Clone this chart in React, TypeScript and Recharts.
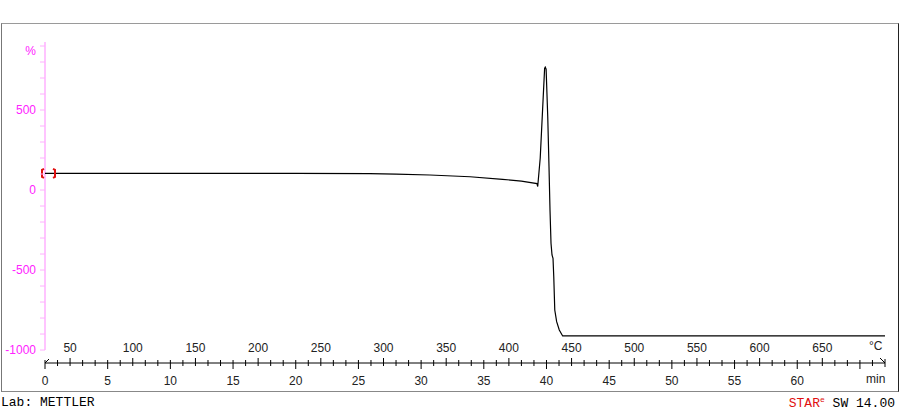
import { LineChart, Line, XAxis, YAxis, ReferenceLine, ReferenceDot } from 'recharts';

// time in min
const tiempo = [0, 10, 20, 25.9, 28, 30.7, 33.9, 36.5, 38, 39.24, 39.3, 39.5, 39.85, 39.9, 39.97, 40.1, 40.2, 40.28, 40.36, 40.44, 40.52, 40.58, 40.66, 40.81, 41.02, 41.29, 50, 67];
// signal in %
const senal = [104, 104, 104, 102, 99, 94, 83, 67, 56, 40, 22, 200, 760, 768, 755, 458, 146, -125, -333, -406, -427, -542, -750, -823, -875, -912, -912, -912];

const minLabels = [0, 5, 10, 15, 20, 25, 30, 35, 40, 45, 50, 55, 60];
const minTicks = Array.from({ length: 68 }, (_, i) => i);
// temperature scale (°C) and where each label sits on the time axis (min)
const tempLabels = [50, 100, 150, 200, 250, 300, 350, 400, 450, 500, 550, 600, 650];
const tempPos = [2, 7, 12, 17, 22, 27, 32, 37, 42, 47, 52, 57, 62];
const yTicks = [-1000, -900, -800, -700, -600, -500, -400, -300, -200, -100, 0, 100, 200, 300, 400, 500, 600, 700, 800, 900];
const yLabels = [-1000, -500, 0, 500];

const datos = tiempo.map((t, i) => ({ t, v: senal[i] }));

const AXIS_Y = 363;
const AXIS_X = 45;
const ROSA = '#ff22ff';
const ROSA_LINEA = '#ffb0ff';
const FUENTE = '"Liberation Sans", Arial, sans-serif';

const TickMin = (props: any) => {
  const { x, payload } = props;
  const val = payload.value;
  const mayor = val % 5 === 0;
  const iT = tempPos.indexOf(val);
  if (val === 67) {
    return (
      <g stroke="#000">
        <line x1={x - 5} y1={AXIS_Y - 5} x2={x} y2={AXIS_Y} />
        <line x1={x} x2={x} y1={AXIS_Y - 4} y2={AXIS_Y + 4} />
      </g>
    );
  }
  return (
    <g>
      <line
        x1={x}
        x2={x}
        y1={iT >= 0 ? AXIS_Y - 5 : AXIS_Y - 3}
        y2={mayor ? AXIS_Y + 6 : AXIS_Y + 3}
        stroke="#000"
      />
      {val === 0 && <line x1={x} y1={AXIS_Y} x2={x + 4} y2={AXIS_Y - 4} stroke="#000" />}
      {minLabels.includes(val) && (
        <text x={x} y={AXIS_Y + 22} textAnchor="middle" fontSize={12} fontFamily={FUENTE} fill="#222">
          {val}
        </text>
      )}
      {iT >= 0 && (
        <text x={x} y={AXIS_Y - 11} textAnchor="middle" fontSize={12} fontFamily={FUENTE} fill="#222">
          {tempLabels[iT]}
        </text>
      )}
    </g>
  );
};

const TickY = (props: any) => {
  const { y, payload } = props;
  const val = payload.value;
  return (
    <g>
      <line x1={AXIS_X - 5} x2={AXIS_X} y1={y} y2={y} stroke={ROSA_LINEA} />
      {yLabels.includes(val) && (
        <text x={AXIS_X - 9} y={y + 4} textAnchor="end" fontSize={12} fontFamily={FUENTE} fill={ROSA}>
          {val}
        </text>
      )}
      {val === 900 && (
        <text x={AXIS_X - 9} y={y + 9} textAnchor="end" fontSize={12} fontFamily={FUENTE} fill={ROSA}>
          %
        </text>
      )}
    </g>
  );
};

const Corchetes = (props: any) => {
  const { cx, cy } = props;
  return (
    <g stroke="#e01010" strokeWidth={2} fill="none">
      <path d={`M ${cx - 1} ${cy - 4.5} L ${cx - 3} ${cy - 3.5} L ${cx - 3} ${cy + 3.5} L ${cx - 1} ${cy + 4.5}`} />
      <path d={`M ${cx + 8} ${cy - 4.5} L ${cx + 10} ${cy - 3.5} L ${cx + 10} ${cy + 3.5} L ${cx + 8} ${cy + 4.5}`} />
    </g>
  );
};

export default function App() {
  return (
    <div style={{ position: 'absolute', left: 0, top: 0, width: 900, height: 417, background: '#fff' }}>
      <div
        style={{
          position: 'absolute',
          left: 1,
          top: 23,
          width: 896,
          height: 367,
          borderTop: '1px solid #9a9a9a',
          borderLeft: '1px solid #777',
          borderRight: '1px solid #222',
          borderBottom: '1px solid #888',
        }}
      />
      <div style={{ position: 'absolute', left: 0, top: 0 }}>
        <LineChart width={900} height={417} data={datos} margin={{ top: 42, right: 15, bottom: 53, left: 44 }}>
          <XAxis
            dataKey="t"
            type="number"
            domain={[0, 67]}
            ticks={minTicks}
            interval={0}
            height={1}
            axisLine={{ stroke: '#000' }}
            tickLine={false}
            tick={<TickMin />}
          />
          <YAxis
            type="number"
            domain={[-1081, 925]}
            ticks={yTicks}
            interval={0}
            width={1}
            axisLine={false}
            tickLine={false}
            tick={<TickY />}
            allowDataOverflow
          />
          <ReferenceLine
            segment={[{ x: 0, y: -1000 }, { x: 0, y: 925 }]}
            stroke={ROSA_LINEA}
            strokeWidth={1.5}
          />
          <Line
            type="linear"
            dataKey="v"
            stroke="#000"
            strokeWidth={1.2}
            dot={false}
            isAnimationActive={false}
          />
          <ReferenceDot x={0} y={104} r={0} shape={<Corchetes />} />
        </LineChart>
      </div>
      <div style={{ position: 'absolute', left: 869, top: 339, fontSize: 12, fontFamily: FUENTE, color: '#222' }}>°C</div>
      <div style={{ position: 'absolute', left: 866, top: 372, fontSize: 12, fontFamily: FUENTE, color: '#222' }}>min</div>
      <div
        style={{
          position: 'absolute',
          left: 1,
          top: 395,
          fontSize: 13,
          fontFamily: '"Liberation Mono", monospace',
          color: '#000',
        }}
      >
        Lab: METTLER
      </div>
      <div
        style={{
          position: 'absolute',
          right: 5,
          top: 395,
          fontSize: 13,
          fontFamily: '"Liberation Mono", monospace',
          color: '#000',
          whiteSpace: 'pre',
        }}
      >
        <span style={{ color: '#e01010' }}>STAR</span>
        <span style={{ color: '#e01010', fontSize: 8, verticalAlign: 'super' }}>e</span> SW 14.00
      </div>
    </div>
  );
}
